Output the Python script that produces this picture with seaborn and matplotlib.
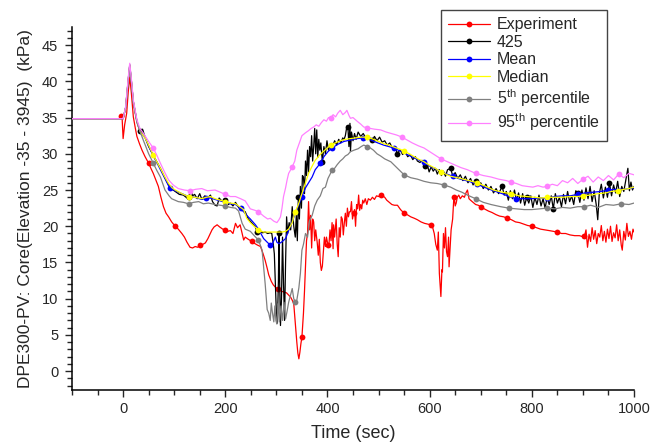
import numpy as np
import pandas as pd
import matplotlib
matplotlib.use("Agg")
import matplotlib.pyplot as plt
import seaborn as sns
from matplotlib.ticker import MultipleLocator, FixedLocator

# ---------------- data ----------------
t_exp = [-6, -4, -2, 0, 3, 7, 10, 13, 16, 20, 24, 27, 32, 37, 43, 50, 55, 59, 64, 69, 74, 79, 84, 89, 95,
         102, 108, 115, 120, 125, 131, 136, 141, 146, 151, 156, 161, 166, 170, 174, 178, 184, 189, 195,
         200, 205, 210, 215, 220, 224, 229, 233, 236, 239, 245, 252, 258, 263, 269, 274, 278, 282, 285,
         290, 294, 298, 303, 307, 311, 316, 320, 324, 328, 331, 334, 337, 340, 342, 344, 346, 348, 350,
         353, 355, 357, 359, 361, 363, 365, 367, 369, 371, 373, 375, 377, 380, 382, 384, 386, 388, 390,
         392, 394, 396, 398, 401, 403, 405, 407, 409, 411, 412, 414, 417, 419, 421, 423, 425, 427, 429,
         431, 433, 435, 437, 439, 441, 443, 445, 447, 449, 451, 453, 455, 457, 459, 461, 463, 465, 467,
         469, 471, 474, 477, 480, 484, 488, 492, 496, 500, 504, 508, 512, 516, 521, 526, 531, 537, 543,
         550, 556, 563, 570, 576, 583, 590, 596, 602, 606, 609, 612, 615, 617, 619, 621, 622, 624, 625,
         627, 629, 631, 633, 635, 637, 638, 640, 642, 645, 647, 648, 650, 652, 654, 657, 660, 664, 668,
         671, 674, 677, 680, 685, 690, 695, 700, 707, 715, 722, 730, 737, 745, 752, 760, 768, 776, 784,
         792, 801, 809, 817, 826, 834, 842, 850, 858, 866, 875, 884, 893, 898, 903, 906, 909, 912, 915,
         918, 921, 924, 927, 930, 933, 936, 939, 942, 945, 948, 951, 954, 957, 960, 963, 966, 969, 972,
         975, 977, 980, 983, 986, 989, 992, 995, 998, 1000]
v_exp = [35.0, 35.2, 35.0, 32.1, 34.0, 35.6, 38.5, 40.6, 38.5, 35.1, 33.5, 32.4, 31.4, 30.5, 29.6, 28.7,
         27.9, 27.3, 26.4, 25.5, 24.0, 22.7, 21.8, 21.3, 20.6, 20.0, 19.6, 19.0, 18.5, 17.8, 17.1, 17.0,
         17.2, 17.1, 17.4, 17.5, 17.7, 18.3, 18.9, 19.5, 19.9, 20.2, 19.9, 19.6, 19.5, 19.3, 19.4, 19.0,
         20.4, 19.8, 20.2, 19.0, 18.1, 18.5, 18.2, 17.9, 17.6, 17.4, 17.2, 16.2, 15.3, 14.2, 13.3, 12.4,
         11.9, 11.6, 11.3, 11.2, 11.0, 10.9, 10.8, 10.5, 10.2, 9.8, 9.3, 6.6, 4.0, 2.5, 1.7, 2.6, 3.8, 4.7,
         8.0, 11.0, 14.4, 18.0, 19.0, 23.4, 19.5, 21.5, 17.0, 21.0, 20.6, 18.0, 19.5, 17.7, 16.0, 18.2,
         15.0, 13.9, 14.5, 16.5, 18.5, 17.2, 18.5, 17.4, 17.6, 19.5, 18.0, 20.5, 16.9, 20.2, 18.5, 21.0,
         17.6, 15.8, 19.8, 18.5, 21.3, 21.0, 18.8, 20.5, 21.8, 20.0, 22.5, 21.3, 22.0, 22.0, 23.4, 21.0,
         21.8, 22.3, 20.0, 23.0, 22.4, 24.3, 22.2, 23.0, 22.4, 23.6, 23.2, 23.8, 23.0, 23.8, 23.6, 24.0,
         23.7, 24.2, 24.1, 24.3, 24.2, 24.0, 23.6, 23.3, 23.0, 22.9, 22.9, 22.3, 21.8, 21.6, 21.3, 21.1,
         20.9, 20.6, 20.4, 20.3, 20.2, 19.8, 19.0, 17.5, 16.7, 19.2, 13.5, 11.5, 10.3, 14.0, 13.7, 19.0,
         17.0, 19.8, 16.5, 15.8, 18.5, 14.4, 17.0, 19.5, 21.0, 23.5, 24.1, 22.8, 23.2, 24.0, 24.3, 23.8,
         24.2, 24.0, 24.6, 25.0, 23.8, 23.6, 23.3, 23.0, 22.9, 22.7, 22.4, 22.1, 21.9, 21.6, 21.4, 21.3,
         21.1, 20.9, 20.6, 20.5, 20.3, 20.1, 20.0, 19.8, 19.6, 19.5, 19.4, 19.3, 19.2, 19.0, 19.0, 18.8,
         18.7, 18.7, 18.6, 18.6, 19.5, 17.1, 18.9, 17.9, 19.8, 18.2, 19.4, 17.6, 19.0, 18.5, 20.1, 18.0,
         19.3, 17.8, 19.6, 18.3, 20.0, 17.9, 19.1, 18.4, 20.2, 18.0, 19.5, 17.4, 16.7, 19.3, 18.1, 20.4,
         18.6, 19.3, 18.2, 19.6, 19.2]

t_425 = [-100, 0, 5, 10, 13, 16, 20, 27, 33, 38, 43, 50, 59, 66, 73, 81, 89, 96, 102, 110, 118, 125, 128,
         133, 136, 140, 145, 150, 154, 160, 165, 171, 175, 180, 184, 188, 193, 200, 206, 210, 215, 220,
         226, 233, 239, 245, 250, 255, 259, 262, 268, 273, 278, 283, 288, 291, 294, 296, 298, 300, 302,
         304, 305, 306, 308, 310, 312, 314, 316, 318, 320, 322, 325, 328, 331, 334, 337, 339, 341, 343,
         345, 347, 349, 351, 353, 355, 357, 359, 361, 363, 365, 367, 369, 371, 373, 375, 377, 379, 381,
         383, 385, 387, 390, 393, 396, 399, 402, 406, 410, 414, 418, 422, 426, 430, 432, 435, 438, 440,
         442, 444, 445, 447, 450, 453, 456, 460, 465, 470, 475, 480, 485, 488, 492, 497, 502, 507, 512,
         517, 522, 527, 532, 537, 542, 547, 552, 557, 562, 567, 572, 576, 581, 585, 590, 595, 599, 603,
         607, 611, 615, 619, 623, 627, 631, 635, 641, 645, 650, 655, 660, 665, 670, 675, 680, 685, 690,
         695, 700, 705, 710, 715, 720, 725, 730, 735, 742, 746, 750, 754, 758, 762, 766, 770, 774, 778,
         782, 786, 790, 794, 798, 802, 806, 810, 814, 818, 822, 826, 830, 834, 838, 842, 846, 850, 854,
         858, 862, 866, 870, 874, 878, 882, 886, 890, 894, 898, 902, 906, 910, 914, 918, 922, 926, 929,
         932, 936, 940, 944, 948, 952, 956, 960, 964, 968, 972, 976, 980, 984, 988, 991, 994, 997, 1000]
v_425 = [34.85, 34.85, 36.4, 40.2, 42.3, 40.2, 37.2, 34.5, 33.1, 33.4, 32.3, 31.0, 29.8, 28.9, 28.0, 26.8,
         25.7, 25.1, 24.8, 24.4, 24.3, 23.9, 24.0, 24.9, 24.2, 24.4, 23.8, 24.5, 23.7, 24.2, 23.9, 24.3,
         23.4, 22.9, 22.8, 23.9, 23.5, 23.6, 23.0, 23.2, 22.8, 23.3, 22.6, 22.2, 22.0, 21.0, 20.6, 20.2,
         19.9, 19.2, 19.3, 19.1, 19.2, 19.0, 19.1, 19.0, 17.5, 16.2, 12.0, 8.0, 6.6, 12.5, 19.0, 14.0, 6.3,
         10.0, 18.5, 12.0, 7.0, 15.0, 21.3, 19.0, 20.5, 19.5, 22.7, 20.0, 18.5, 21.5, 18.0, 24.0, 21.0,
         25.5, 22.5, 27.0, 26.8, 24.5, 29.0, 27.0, 30.5, 27.5, 31.0, 29.6, 32.5, 29.0, 31.0, 33.5, 30.0,
         33.3, 29.5, 32.0, 30.5, 31.5, 28.9, 31.0, 30.0, 31.8, 30.5, 31.4, 31.0, 31.8, 31.2, 32.0, 31.5,
         32.2, 31.9, 32.5, 33.8, 33.7, 31.0, 34.2, 30.3, 33.0, 31.8, 32.8, 32.0, 33.0, 32.4, 32.8, 32.2,
         32.5, 32.0, 31.9, 32.4, 31.8, 32.3, 31.6, 31.8, 31.2, 31.5, 30.8, 31.0, 30.0, 30.6, 29.9, 30.3,
         29.6, 29.9, 29.2, 29.6, 29.0, 28.8, 29.1, 28.3, 28.6, 27.5, 28.2, 27.6, 28.0, 27.2, 27.8, 27.0,
         27.6, 26.9, 27.8, 28.0, 27.0, 27.4, 26.6, 27.1, 26.3, 26.9, 26.0, 26.6, 25.7, 26.3, 25.6, 26.0,
         25.2, 25.8, 25.0, 25.5, 24.6, 25.2, 24.5, 25.5, 24.3, 24.8, 23.6, 24.9, 23.8, 25.0, 23.5, 24.6,
         23.2, 24.5, 22.9, 24.0, 23.2, 24.2, 22.6, 24.0, 23.0, 24.3, 22.8, 23.8, 22.5, 24.0, 23.0, 24.2,
         22.4, 24.5, 23.2, 24.0, 22.7, 24.4, 23.1, 24.8, 23.4, 24.2, 23.0, 24.9, 24.6, 23.3, 25.0, 23.6,
         25.3, 23.8, 25.5, 23.4, 24.9, 23.0, 20.9, 24.5, 25.8, 23.9, 25.4, 24.0, 26.0, 24.2, 25.7, 24.6,
         26.2, 24.1, 25.5, 24.8, 26.4, 28.0, 24.9, 26.1, 25.0, 25.5]

t_mean = [-100, 0, 5, 10, 13, 16, 20, 27, 33, 43, 50, 59, 66, 73, 81, 91, 96, 102, 115, 128, 140, 154, 163,
          171, 180, 190, 200, 210, 220, 230, 236, 242, 249, 259, 265, 275, 282, 288, 293, 298, 301, 305,
          310, 318, 324, 331, 337, 343, 350, 357, 363, 370, 376, 386, 393, 401, 409, 420, 432, 445, 458,
          470, 482, 495, 510, 530, 550, 565, 577, 589, 600, 615, 630, 645, 660, 677, 693, 710, 725, 742,
          755, 769, 785, 800, 815, 830, 845, 860, 875, 890, 905, 920, 935, 950, 965, 980, 1000]
v_mean = [34.85, 34.85, 36.4, 40.2, 42.2, 40.2, 37.2, 34.5, 33.1, 32.2, 31.1, 29.7, 28.8, 27.8, 26.7, 25.3,
          25.1, 24.9, 24.5, 24.1, 24.0, 23.7, 23.9, 23.9, 23.7, 23.5, 23.3, 23.1, 23.0, 22.5, 22.0, 21.5,
          21.0, 20.2, 19.6, 18.3, 17.8, 17.4, 17.7, 18.5, 17.8, 17.6, 17.8, 18.3, 19.4, 20.6, 21.8, 22.8,
          24.1, 25.3, 26.0, 26.8, 27.8, 28.7, 29.6, 30.3, 30.8, 31.3, 31.7, 31.9, 32.1, 32.2, 32.0, 31.6,
          31.2, 30.8, 30.1, 29.6, 29.2, 28.8, 28.3, 27.8, 27.3, 26.9, 26.5, 26.2, 25.8, 25.3, 24.9, 24.5,
          24.1, 23.8, 23.8, 23.8, 23.9, 23.9, 24.1, 24.2, 24.2, 24.4, 24.6, 24.7, 24.8, 25.0, 25.1, 25.1,
          25.3]

t_median = [-100, 0, 5, 10, 13, 16, 20, 27, 33, 43, 50, 59, 66, 73, 81, 89, 96, 102, 115, 128, 140, 154,
            163, 171, 180, 190, 200, 210, 220, 230, 236, 242, 249, 258, 265, 275, 285, 295, 305, 311, 318,
            324, 331, 337, 343, 350, 356, 363, 370, 376, 383, 390, 398, 406, 415, 425, 435, 445, 455, 465,
            478, 490, 500, 510, 520, 535, 550, 565, 577, 589, 600, 611, 622, 641, 660, 677, 693, 710, 725,
            742, 759, 775, 790, 805, 818, 830, 845, 860, 875, 890, 900, 915, 930, 945, 955, 968, 980, 990,
            1000]
v_median = [34.85, 34.85, 36.4, 40.2, 42.2, 40.2, 37.2, 34.5, 33.1, 32.2, 31.2, 29.8, 28.9, 28.0, 26.9, 25.9,
            25.3, 25.0, 24.5, 24.1, 24.0, 23.8, 24.0, 24.1, 23.8, 23.6, 23.4, 23.2, 23.1, 22.6, 22.3, 21.1,
            20.5, 19.9, 19.5, 19.2, 19.2, 19.2, 19.2, 19.2, 19.3, 19.6, 20.5, 22.0, 23.0, 24.5, 25.8, 27.3,
            28.3, 29.1, 29.7, 30.2, 30.7, 31.2, 31.5, 31.8, 32.0, 32.1, 32.2, 32.3, 32.3, 32.0, 31.7, 31.4,
            31.2, 30.8, 30.4, 29.8, 29.3, 28.9, 28.4, 28.0, 27.5, 26.9, 26.6, 26.3, 26.0, 25.5, 25.0, 24.7,
            24.5, 24.2, 24.1, 24.0, 23.9, 24.0, 24.0, 24.0, 24.1, 24.1, 24.2, 24.3, 24.5, 24.6, 24.8, 24.9,
            25.1, 25.2, 25.4]

t_p05 = [-100, 0, 5, 10, 13, 16, 20, 27, 33, 40, 50, 59, 66, 73, 82, 90, 95, 108, 118, 128, 138, 148, 157,
         167, 180, 190, 200, 210, 220, 226, 233, 239, 249, 258, 265, 272, 275, 278, 282, 285, 288, 290,
         292, 295, 297, 299, 301, 303, 306, 309, 312, 315, 318, 321, 324, 327, 331, 334, 337, 340, 344,
         347, 350, 353, 357, 361, 365, 370, 375, 380, 386, 391, 396, 401, 406, 409, 414, 419, 425, 430,
         435, 440, 445, 452, 460, 466, 471, 478, 484, 490, 497, 504, 512, 524, 537, 550, 563, 576, 589,
         602, 615, 628, 641, 652, 663, 674, 690, 705, 720, 739, 755, 770, 785, 800, 815, 830, 845, 860,
         875, 890, 903, 915, 930, 945, 960, 975, 990, 1000]
v_p05 = [34.85, 34.85, 36.3, 40.0, 42.0, 40.0, 37.0, 34.3, 33.1, 31.8, 30.0, 28.7, 27.7, 26.8, 25.0, 24.2,
         23.8, 23.4, 23.3, 23.1, 23.3, 23.4, 23.1, 23.2, 23.0, 22.9, 22.8, 22.6, 22.5, 22.1, 20.4, 19.6,
         19.3, 18.6, 18.1, 16.7, 14.4, 12.1, 8.5, 8.0, 7.0, 9.4, 8.2, 6.8, 9.0, 7.0, 6.5, 9.3, 6.8, 9.0,
         7.0, 9.5, 7.2, 8.3, 9.5, 10.3, 11.4, 10.0, 9.6, 9.8, 11.5, 13.5, 16.7, 17.5, 19.0, 18.5, 20.8,
         21.5, 22.8, 23.6, 24.2, 25.2, 25.4, 26.6, 27.3, 27.8, 28.0, 28.5, 29.0, 29.3, 29.7, 29.9, 30.3,
         30.5, 30.7, 31.0, 31.2, 31.0, 30.8, 30.5, 30.0, 29.7, 29.3, 28.9, 28.0, 27.1, 26.7, 26.5, 26.2,
         26.0, 25.9, 25.7, 25.4, 25.0, 24.7, 24.3, 23.8, 23.3, 23.0, 22.7, 22.5, 22.4, 22.3, 22.3, 22.4,
         22.5, 22.4, 22.6, 22.5, 22.7, 22.7, 22.9, 22.6, 23.0, 22.9, 23.1, 23.0, 23.2]

t_p95 = [-100, 0, 5, 10, 13, 16, 20, 27, 33, 40, 50, 59, 66, 73, 81, 89, 98, 108, 120, 131, 142, 154, 165,
         180, 190, 200, 210, 220, 230, 239, 249, 258, 265, 275, 283, 288, 295, 301, 305, 308, 311, 314,
         318, 321, 324, 328, 331, 336, 340, 345, 350, 357, 363, 368, 373, 378, 383, 388, 393, 398, 402,
         406, 411, 416, 420, 425, 430, 435, 438, 442, 445, 450, 458, 465, 471, 478, 484, 492, 504, 515,
         525, 535, 546, 556, 566, 578, 589, 600, 611, 622, 635, 648, 661, 674, 690, 705, 720, 735, 750,
         759, 770, 781, 791, 802, 812, 822, 830, 840, 850, 860, 870, 880, 890, 900, 910, 920, 930, 940,
         950, 960, 970, 980, 990, 1000]
v_p95 = [34.85, 34.85, 36.5, 40.5, 42.5, 40.5, 37.4, 34.7, 33.5, 32.8, 31.7, 30.8, 29.8, 28.7, 27.5, 26.4,
         25.7, 25.2, 25.0, 24.9, 25.1, 25.2, 24.9, 25.0, 24.7, 24.4, 24.1, 24.1, 23.8, 23.5, 22.4, 22.2,
         22.0, 21.4, 21.0, 21.1, 20.7, 20.5, 20.9, 21.3, 22.5, 24.1, 25.3, 26.4, 27.3, 27.8, 28.2, 29.0,
         30.5, 31.5, 32.5, 32.9, 33.2, 33.5, 33.7, 34.0, 33.8, 34.3, 34.7, 34.5, 35.0, 34.9, 35.4, 35.1,
         35.6, 36.0, 35.4, 35.7, 36.0, 35.3, 34.9, 35.0, 34.5, 34.1, 33.7, 33.6, 33.5, 33.4, 33.3, 33.0,
         32.8, 32.6, 32.3, 31.9, 31.5, 31.1, 30.8, 30.3, 29.8, 29.3, 28.9, 28.5, 28.1, 27.8, 27.3, 27.0,
         26.8, 26.5, 26.3, 26.1, 25.9, 25.6, 25.5, 25.4, 25.6, 25.4, 25.5, 25.8, 25.6, 26.3, 26.0, 26.6,
         25.9, 26.5, 26.9, 26.1, 26.8, 26.3, 27.0, 26.4, 27.2, 26.7, 27.3, 27.1]

series_names = ["Experiment", "425", "Mean", "Median",
                r"5$^{\mathrm{th}}$ percentile", r"95$^{\mathrm{th}}$ percentile"]
series_t = [t_exp, t_425, t_mean, t_median, t_p05, t_p95]
series_v = [v_exp, v_425, v_mean, v_median, v_p05, v_p95]
series_colors = ["#FF0000", "#000000", "#0000FF", "#FFFF00", "#808080", "#FF80FF"]

# times at which the plotting program drew symbols (style)
marker_times = [
    [-4, 50, 102, 151, 200, 252, 305, 350, 401, 452, 504, 550, 602, 648, 700, 752, 801, 850, 903],
    [33, 128, 200, 262, 305, 344, 390, 440, 488, 537, 590, 641, 690, 742, 790, 842, 890, 952],
    [91, 163, 230, 288, 350, 386, 409, 470, 530, 589, 645, 693, 769, 830, 890, 950],
    [59, 128, 200, 265, 337, 406, 478, 550, 622, 693, 759, 830, 900, 968],
    [59, 128, 200, 265, 337, 409, 478, 550, 622, 690, 755, 830, 903, 975],
    [59, 131, 200, 265, 331, 406, 478, 546, 622, 690, 759, 830, 900, 970],
]

# ---------------- style ----------------
sns.set_style("ticks")
plt.rcParams["font.family"] = ["Liberation Sans", "DejaVu Sans"]
plt.rcParams["mathtext.fontset"] = "custom"
plt.rcParams["mathtext.rm"] = "Liberation Sans"
plt.rcParams["mathtext.it"] = "Liberation Sans:italic"
plt.rcParams["mathtext.bf"] = "Liberation Sans:bold"

fig = plt.figure(figsize=(6.5, 4.48), dpi=100)
ax = fig.add_axes([0.1108, 0.1295, 0.8646, 0.8102])

for i, (name, t, v, c) in enumerate(zip(series_names, series_t, series_v, series_colors)):
    df = pd.DataFrame({"t": t, "v": v})
    tarr = np.asarray(t, dtype=float)
    idx = sorted(set(int(np.argmin(np.abs(tarr - mt))) for mt in marker_times[i]))
    sns.lineplot(data=df, x="t", y="v", ax=ax, color=c, linewidth=0.9, label=name,
                 marker="o", markersize=4.2, markeredgewidth=0, markevery=idx,
                 sort=False, estimator=None, zorder=2 + i)

ax.set_xlim(-100, 1000)
ax.set_ylim(-2.6, 47.5)
ax.xaxis.set_major_locator(FixedLocator([0, 200, 400, 600, 800, 1000]))
ax.xaxis.set_minor_locator(FixedLocator([-100, -50, 50, 100, 150, 250, 300, 350, 450, 500, 550,
                                         650, 700, 750, 850, 900, 950]))
ax.yaxis.set_major_locator(MultipleLocator(5))
ax.yaxis.set_minor_locator(MultipleLocator(1))
ax.tick_params(axis="x", which="major", direction="out", length=5, width=1, labelsize=10.5, pad=4)
ax.tick_params(axis="x", which="minor", direction="out", length=3.8, width=1)
ax.tick_params(axis="y", which="major", direction="out", length=5, width=1, labelsize=10.5, pad=5)
ax.tick_params(axis="y", which="minor", direction="out", length=3.5, width=1)
for s in ["top", "right"]:
    ax.spines[s].set_visible(False)
for s in ["left", "bottom"]:
    ax.spines[s].set_linewidth(1.1)
    ax.spines[s].set_color("black")

ax.set_xlabel("Time (sec)", fontsize=13, labelpad=6)
ax.set_ylabel("DPE300-PV: Core(Elevation -35 - 3945)  (kPa)", fontsize=12.5, labelpad=6)

leg = ax.legend(loc="upper left", bbox_to_anchor=(441 / 650, 1 - 10 / 448),
                bbox_transform=fig.transFigure, fontsize=11.5, frameon=True, fancybox=False,
                framealpha=1, edgecolor="#444444", handlelength=2.6, handletextpad=0.45,
                labelspacing=0.16, borderpad=0.45, borderaxespad=0)
leg.get_frame().set_linewidth(1.0)
leg.set_zorder(20)

fig.savefig("out.png", dpi=100)
